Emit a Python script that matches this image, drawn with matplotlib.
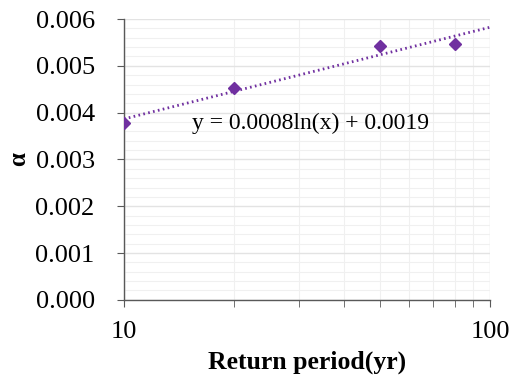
import numpy as np
import matplotlib.pyplot as plt
from matplotlib.ticker import FixedLocator, NullFormatter, MultipleLocator, FormatStrFormatter

# return period (yr) and alpha values
period = [10, 20, 50, 80]
alpha = [0.00378, 0.00452, 0.00542, 0.00547]

plt.rcParams['font.family'] = ['Liberation Serif', 'DejaVu Serif']
purple = '#7030A0'

fig = plt.figure(figsize=(5.12, 3.81), dpi=100)
ax = fig.add_axes([0.242, 0.213, 0.715, 0.737])

# logarithmic trendline fitted to the data
slope, intercept = np.polyfit(np.log(period), alpha, 1)
xt = np.logspace(1, 2, 200)
ax.plot(xt, slope * np.log(xt) + intercept, color=purple, lw=2, ls=(0, (0.6, 1.2)), zorder=3)
ax.plot(period, alpha, 'D', color=purple, ms=6, zorder=4)

ax.set_xscale('log')
ax.set_xlim(10, 100)
ax.set_ylim(0, 0.006)
ax.set_xticks([10, 100])
ax.set_xticklabels(['10', '100'])
ax.xaxis.set_minor_locator(FixedLocator([20, 30, 40, 50, 60, 70, 80, 90]))
ax.xaxis.set_minor_formatter(NullFormatter())
ax.yaxis.set_major_locator(MultipleLocator(0.001))
ax.yaxis.set_major_formatter(FormatStrFormatter('%.3f'))
ax.yaxis.set_minor_locator(MultipleLocator(0.0002))

ax.grid(which='major', color='#e3e3e3', lw=1)
ax.grid(which='minor', color='#f0f0f0', lw=0.8)
ax.set_axisbelow(True)

for s in ['top', 'right']:
    ax.spines[s].set_visible(False)
for s in ['left', 'bottom']:
    ax.spines[s].set_color('#595959')
    ax.spines[s].set_linewidth(1)

ax.tick_params(axis='both', which='major', labelsize=19, length=5, color='#595959')
ax.tick_params(axis='y', which='major', pad=16)
ax.tick_params(axis='x', which='major', pad=10)
ax.tick_params(axis='x', which='minor', length=5, color='#595959')
ax.tick_params(axis='y', which='minor', length=0)

ax.set_xlabel('Return period(yr)', fontsize=18.5, fontweight='bold', labelpad=6)
ax.set_ylabel('α', fontsize=18, fontweight='bold', labelpad=4)

ax.text(15.3, 0.00378, 'y = 0.0008ln(x) + 0.0019', fontsize=17, va='center')

fig.savefig('out.png', dpi=100)
